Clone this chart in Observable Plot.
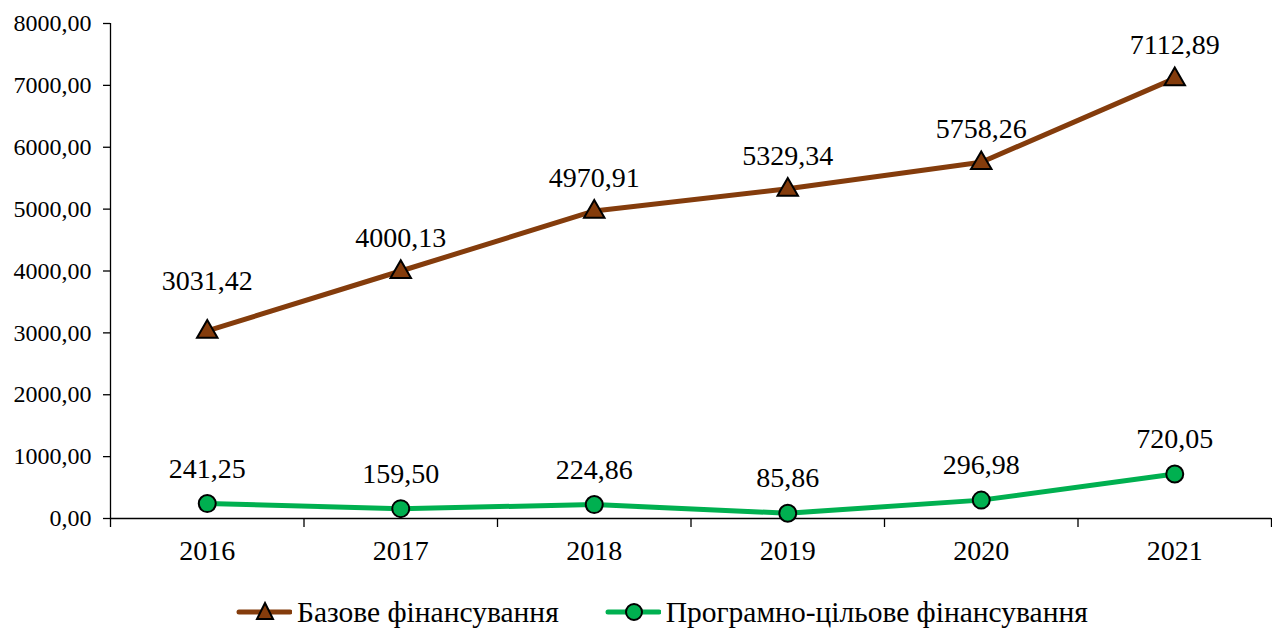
<!DOCTYPE html>
<html>
<head>
<meta charset="utf-8">
<script src="https://cdn.jsdelivr.net/npm/d3@7"></script>
<script src="https://cdn.jsdelivr.net/npm/@observablehq/plot@0.6"></script>
<style>
  html, body { margin: 0; padding: 0; background: #fff; }
  body { width: 1272px; height: 632px; overflow: hidden; font-family: "Liberation Serif", "Times New Roman", serif; }
  #legend { display: flex; align-items: center; height: 30px; margin-top: 7px; padding-left: 236px; font-size: 29.5px; color: #000; white-space: nowrap; }
  .item { display: flex; align-items: center; }
  .item svg { display: block; margin-right: 5px; }
</style>
</head>
<body>
<div id="chart"></div>
<div id="legend"></div>
<script>
const years = ["2016", "2017", "2018", "2019", "2020", "2021"];
const baseFunding = [3031.42, 4000.13, 4970.91, 5329.34, 5758.26, 7112.89];
const programFunding = [241.25, 159.50, 224.86, 85.86, 296.98, 720.05];
const seriesNames = ["Базове фінансування", "Програмно-цільове фінансування"];
const yTicks = [0, 1000, 2000, 3000, 4000, 5000, 6000, 7000, 8000];

const brown = "#843C0C";
const green = "#00B050";
const fmt = v => v.toFixed(2).replace(".", ",");

const base = years.map((y, i) => ({i, year: y, value: baseFunding[i]}));
const prog = years.map((y, i) => ({i, year: y, value: programFunding[i]}));
const idx = years.map((_, i) => i);
const bounds = d3.range(years.length + 1).map(k => k - 0.5);

const plot = Plot.plot({
  width: 1272,
  height: 590,
  marginTop: 23,
  marginBottom: 72,
  marginLeft: 110,
  marginRight: 1,
  style: {fontFamily: "'Liberation Serif', 'Times New Roman', serif", color: "#000", background: "#fff", overflow: "visible"},
  x: {type: "linear", domain: [-0.5, years.length - 0.5], axis: null},
  y: {domain: [0, 8000], axis: null},
  marks: [
    Plot.axisY({ticks: yTicks, tickSize: 7, tickPadding: 12, tickFormat: fmt, fontSize: 24, stroke: "#000", strokeWidth: 1.3, label: null}),
    Plot.axisX({ticks: bounds, tickSize: 9, tickFormat: () => "", stroke: "#000", strokeWidth: 1.3, label: null}),
    Plot.axisX({ticks: idx, tickSize: 0, tickPadding: 22, tickFormat: i => years[i], fontSize: 28, label: null}),
    Plot.ruleY([0], {stroke: "#000", strokeWidth: 1.3}),
    Plot.ruleX([-0.5], {stroke: "#000", strokeWidth: 1.3}),
    Plot.line(base, {x: "i", y: "value", stroke: brown, strokeWidth: 5}),
    Plot.line(prog, {x: "i", y: "value", stroke: green, strokeWidth: 5}),
    Plot.dot(base, {x: "i", y: "value", symbol: "triangle", r: 7.6, fill: brown, stroke: "#000", strokeWidth: 2, dy: 1}),
    Plot.dot(prog, {x: "i", y: "value", symbol: "circle", r: 8.5, fill: green, stroke: "#000", strokeWidth: 2}),
    Plot.text(base.filter(d => d.i === 0), {x: "i", y: "value", text: d => fmt(d.value), dy: -50, fontSize: 28, fill: "#000"}),
    Plot.text(base.filter(d => d.i > 0), {x: "i", y: "value", text: d => fmt(d.value), dy: -33, fontSize: 28, fill: "#000"}),
    Plot.text(prog, {x: "i", y: "value", text: d => fmt(d.value), dy: -35, fontSize: 28, fill: "#000"})
  ]
});
document.getElementById("chart").appendChild(plot);

// legend
const legend = d3.select("#legend");
const items = [
  {name: seriesNames[0], color: brown, symbol: "triangle"},
  {name: seriesNames[1], color: green, symbol: "circle"}
];
items.forEach((it, k) => {
  const div = legend.append("div").attr("class", "item").style("margin-left", k ? "46px" : "0px");
  const svg = div.append("svg").attr("width", 56).attr("height", 24);
  svg.append("line").attr("x1", 3).attr("x2", 54).attr("y1", 12).attr("y2", 12)
    .attr("stroke", it.color).attr("stroke-width", 5).attr("stroke-linecap", "round");
  if (it.symbol === "triangle") {
    svg.append("path").attr("d", "M29,3 L37,19 L21,19 Z").attr("fill", it.color).attr("stroke", "#000").attr("stroke-width", 2);
  } else {
    svg.append("circle").attr("cx", 29).attr("cy", 12).attr("r", 8).attr("fill", it.color).attr("stroke", "#000").attr("stroke-width", 2);
  }
  div.append("span").text(it.name);
});
</script>
</body>
</html>
